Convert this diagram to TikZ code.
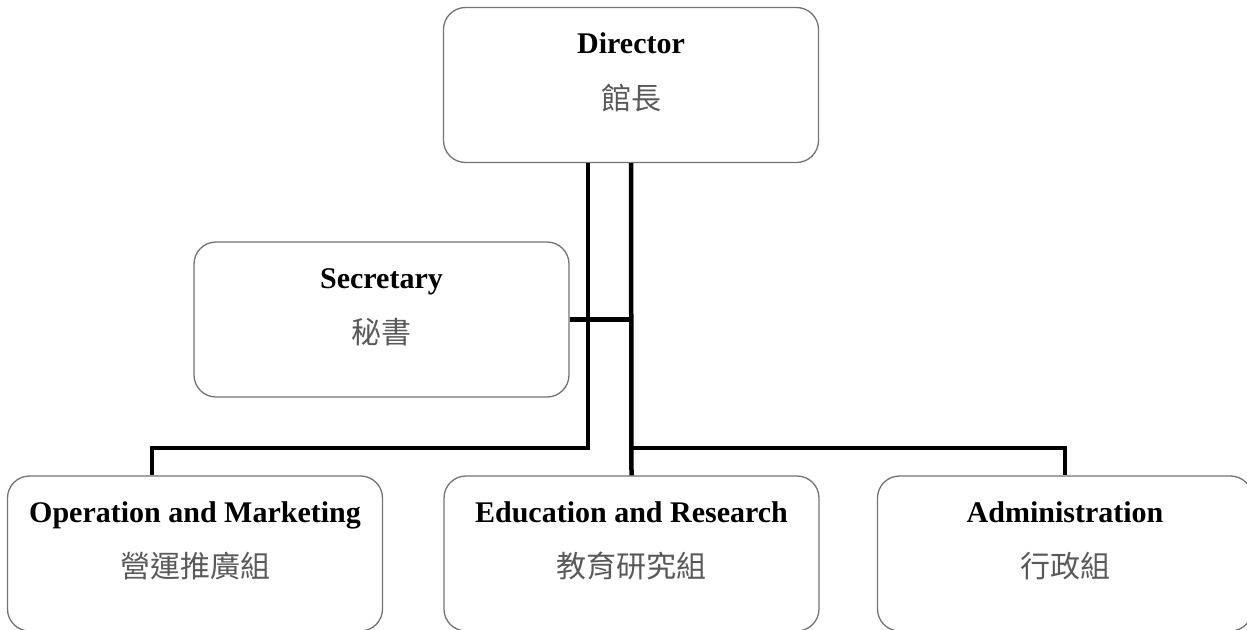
\documentclass[tikz,border=0pt]{standalone}
\usepackage{fontspec}
\setmainfont{Liberation Serif}
\newfontfamily\cjk{Noto Sans CJK TC}
\usetikzlibrary{positioning}
\tikzset{
  unit/.style={draw=black!55,line width=1.3pt,rounded corners=22pt,
    minimum width=375pt,minimum height=155pt,inner sep=0pt},
  entitle/.style={font=\fontsize{30}{34}\selectfont\bfseries,inner sep=0pt,anchor=base},
  zhtitle/.style={font=\fontsize{30}{34}\selectfont\cjk,text=black!65,inner sep=0pt},
  link/.style={line width=4.5pt,line join=miter}
}
\begin{document}
\begin{tikzpicture}[x=1pt,y=-1pt]
\useasboundingbox (0,0) rectangle (1247,629);
\clip (0,0) rectangle (1247,629);
%boxes
\node[unit] (dir) at (631,85) {};
\node[unit] (sec) at (381.5,319.5) {};
\node[unit] (opm) at (195,553.5) {};
\node[unit] (edu) at (631.5,553.5) {};
\node[unit] (adm) at (1065,553.5) {};
%texts
\foreach \b/\en/\zh in {dir/Director/館長,sec/Secretary/秘書,
    opm/Operation and Marketing/營運推廣組,
    edu/Education and Research/教育研究組,adm/Administration/行政組}{
  \node[entitle] (\b-en) at ([yshift=-47pt]\b.north) {\en};
  \node[zhtitle] (\b-zh) at ([yshift=-91pt]\b.north) {\zh};
}
%lines
\coordinate (bus) at (0,448);
\draw[link] ([xshift=-43pt]dir.south) -- ([xshift=-43pt]dir.south |- bus)
  -| ([xshift=-43pt]opm.north);
\draw[link] (dir.south) -- (edu.north);
\draw[link] (dir.south |- bus) -| (adm.north);
\draw[link] (sec.east) -- (sec.east -| dir.south);
\end{tikzpicture}
\end{document}
